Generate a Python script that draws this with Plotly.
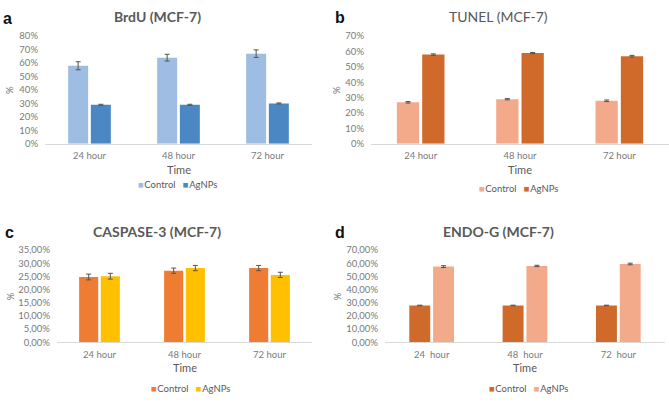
import plotly.graph_objects as go

W, H = 669, 404
categories = ["24 hour", "48 hour", "72 hour"]
categories_d = ["24  hour", "48  hour", "72  hour"]
series_names = ["Control", "AgNPs"]

brdu_control = [0.58, 0.64, 0.67]
brdu_control_err = [0.03, 0.025, 0.028]
brdu_agnps = [0.29, 0.29, 0.30]
brdu_agnps_err = [0.004, 0.004, 0.004]

tunel_control = [0.27, 0.29, 0.28]
tunel_control_err = [0.005, 0.004, 0.005]
tunel_agnps = [0.58, 0.59, 0.57]
tunel_agnps_err = [0.005, 0.004, 0.005]

casp_control = [0.248, 0.272, 0.282]
casp_control_err = [0.011, 0.010, 0.010]
casp_agnps = [0.251, 0.282, 0.256]
casp_agnps_err = [0.011, 0.010, 0.010]

endo_control = [0.28, 0.28, 0.28]
endo_control_err = [0.002, 0.002, 0.002]
endo_agnps = [0.575, 0.58, 0.595]
endo_agnps_err = [0.007, 0.005, 0.006]

ticks_a = [0, 0.1, 0.2, 0.3, 0.4, 0.5, 0.6, 0.7, 0.8]
ticks_b = [0, 0.1, 0.2, 0.3, 0.4, 0.5, 0.6, 0.7]
ticks_c = [0, 0.05, 0.10, 0.15, 0.20, 0.25, 0.30, 0.35]
ticktext_c = ["0,00%", "5,00%", "10,00%", "15,00%", "20,00%", "25,00%", "30,00%", "35,00%"]
ticks_d = [0, 0.1, 0.2, 0.3, 0.4, 0.5, 0.6, 0.7]
ticktext_d = ["0,00%", "10,00%", "20,00%", "30,00%", "40,00%", "50,00%", "60,00%", "70,00%"]

panels = [
    dict(letter="a", title="<b>BrdU (MCF-7)</b>", cats=categories,
         vals=[brdu_control, brdu_agnps], errs=[brdu_control_err, brdu_agnps_err],
         colors=["#9DBDE2", "#4B87C2"], xpx=(45, 312), y0=141.7, ytop=31, rng=0.8,
         tickvals=ticks_a, ticktext=None, title_x=157, title_y=11, legx=177, legy=184,
         letter_xy=(7, 13), pct_x=10, time_y=168),
    dict(letter="b", title="TUNEL (MCF-7)", cats=categories,
         vals=[tunel_control, tunel_agnps], errs=[tunel_control_err, tunel_agnps_err],
         colors=["#F3AA8B", "#D06A2B"], xpx=(371, 669), y0=141.7, ytop=31, rng=0.7,
         tickvals=ticks_b, ticktext=None, title_x=498, title_y=11, legx=518, legy=188,
         letter_xy=(340, 12), pct_x=337, time_y=168),
    dict(letter="c", title="<b>CASPASE-3 (MCF-7)</b>", cats=categories,
         vals=[casp_control, casp_agnps], errs=[casp_control_err, casp_agnps_err],
         colors=["#EE7D33", "#FFC000"], xpx=(57, 312), y0=345.7, ytop=251, rng=0.35,
         tickvals=ticks_c, ticktext=ticktext_c, title_x=157, title_y=232, legx=191, legy=393,
         letter_xy=(9, 233), pct_x=10, time_y=372),
    dict(letter="d", title="<b>ENDO-G (MCF-7)</b>", cats=categories_d,
         vals=[endo_control, endo_agnps], errs=[endo_control_err, endo_agnps_err],
         colors=["#D06A2B", "#F3AA8B"], xpx=(385, 665), y0=345.7, ytop=251, rng=0.7,
         tickvals=ticks_d, ticktext=ticktext_d, title_x=498, title_y=232, legx=528, legy=393,
         letter_xy=(340, 233), pct_x=337, time_y=372),
]

fig = go.Figure()
annotations = []
layout = {}
gray = "#595959"
tickgray = "#7A7A7A"
FONT = "Lato"

for i, p in enumerate(panels):
    n = "" if i == 0 else str(i + 1)
    xa, ya = "x" + n, "y" + n
    for j in range(2):
        fig.add_trace(go.Bar(
            x=p["cats"], y=p["vals"][j], name=series_names[j],
            marker=dict(color=p["colors"][j], line=dict(width=0)),
            error_y=dict(type="data", array=p["errs"][j], color="#555555", thickness=1, width=2.5),
            xaxis=xa, yaxis=ya, showlegend=False,
        ))
    x0, x1 = p["xpx"]
    y0f = 1 - p["y0"] / H
    ytopf = 1 - p["ytop"] / H
    layout["xaxis" + n] = dict(
        domain=[x0 / W, x1 / W], anchor=ya, showline=True, linecolor="#D9D9D9", linewidth=1,
        showgrid=False, ticks="", tickfont=dict(size=9.5, color=tickgray, family=FONT),
        ticklabelstandoff=3, fixedrange=True,
    )
    ya_dict = dict(
        domain=[y0f, ytopf], anchor=xa, range=[0, p["rng"]], showgrid=False, zeroline=False,
        showline=False, tickvals=p["tickvals"], tickfont=dict(size=9.5, color=tickgray, family=FONT),
        ticks="", ticklabelstandoff=6, fixedrange=True,
    )
    if p["ticktext"] is None:
        ya_dict["tickformat"] = ".0%"
    else:
        ya_dict["ticktext"] = p["ticktext"]
    layout["yaxis" + n] = ya_dict

    legend_text = (f"<span style='color:{p['colors'][0]}'>■</span>&#8202;{series_names[0]}"
                   f"&nbsp;&nbsp;&nbsp;<span style='color:{p['colors'][1]}'>■</span>&#8202;{series_names[1]}")
    annotations.append(dict(text=legend_text, x=p["legx"] / W, y=1 - p["legy"] / H,
                            xref="paper", yref="paper", showarrow=False, xanchor="center",
                            yanchor="middle", font=dict(size=9.5, color=gray, family=FONT)))
    annotations.append(dict(text=p["title"], x=p["title_x"] / W, y=1 - p["title_y"] / H,
                            xref="paper", yref="paper", showarrow=False, xanchor="center",
                            yanchor="middle", font=dict(size=14, color=gray, family=FONT)))
    annotations.append(dict(text="<b>" + p["letter"] + "</b>", x=p["letter_xy"][0] / W,
                            y=1 - p["letter_xy"][1] / H, xref="paper", yref="paper",
                            showarrow=False, xanchor="center", yanchor="middle",
                            font=dict(size=16, color="#111111", family="Liberation Sans")))
    annotations.append(dict(text="%", x=p["pct_x"] / W, y=1 - ((p["y0"] + p["ytop"]) / 2) / H,
                            xref="paper", yref="paper", showarrow=False, textangle=-90,
                            xanchor="center", yanchor="middle",
                            font=dict(size=9.5, color=tickgray, family=FONT)))
    annotations.append(dict(text="Time", x=(x0 + x1) / 2 / W, y=1 - p["time_y"] / H,
                            xref="paper", yref="paper", showarrow=False,
                            xanchor="center", yanchor="middle",
                            font=dict(size=11, color=gray, family=FONT)))

fig.update_layout(
    width=W, height=H, margin=dict(l=0, r=0, t=0, b=0),
    paper_bgcolor="white", plot_bgcolor="white",
    barmode="group", bargap=0.49, bargroupgap=0.12,
    annotations=annotations, font=dict(family=FONT), showlegend=False,
    **layout,
)
fig.write_html("out.html", config={"displayModeBar": False},
               post_script="document.body.style.margin='0';")
